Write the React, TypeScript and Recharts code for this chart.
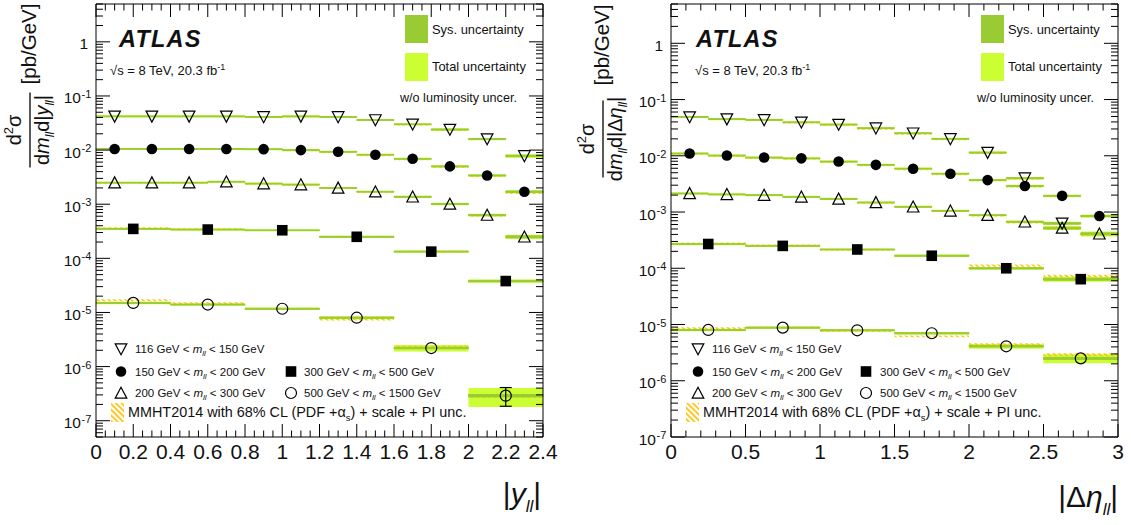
import React from 'react';
import { ComposedChart, XAxis, YAxis, Scatter, ReferenceArea, ErrorBar } from 'recharts';

const FONT = '"Liberation Sans", Arial, Helvetica, sans-serif';
const SYS_COLOR = '#99cc33';
const TOT_COLOR = '#ccff33';
const HATCH_COLOR = '#ffbf00';
const TEXT_COLOR = '#111';

// ---------------- Left panel: |y_ll| ----------------
const yEdgesFine = [0, 0.2, 0.4, 0.6, 0.8, 1.0, 1.2, 1.4, 1.6, 1.8, 2.0, 2.2, 2.4];
const yEdgesCoarse = [0, 0.4, 0.8, 1.2, 1.6, 2.0, 2.4];

const yVal116 = [0.042, 0.042, 0.042, 0.042, 0.041, 0.042, 0.041, 0.036, 0.030, 0.024, 0.016, 0.0078];
const yTot116 = [0.045, 0.045, 0.045, 0.045, 0.045, 0.045, 0.045, 0.045, 0.045, 0.05, 0.05, 0.07];
const ySys116 = [0.015, 0.015, 0.015, 0.015, 0.015, 0.015, 0.015, 0.015, 0.015, 0.02, 0.02, 0.03];
const yTh116 = [0.99, 0.99, 0.99, 0.99, 0.99, 0.98, 0.98, 0.98, 0.97, 0.97, 0.98, 0.98];
const yThU116 = [0.02, 0.02, 0.02, 0.02, 0.02, 0.02, 0.02, 0.02, 0.02, 0.02, 0.02, 0.025];

const yVal150 = [0.0105, 0.0105, 0.0105, 0.0105, 0.0104, 0.0100, 0.0093, 0.0082, 0.0069, 0.0050, 0.0034, 0.0017];
const yTot150 = [0.045, 0.045, 0.045, 0.045, 0.045, 0.045, 0.045, 0.045, 0.045, 0.05, 0.05, 0.065];
const ySys150 = [0.015, 0.015, 0.015, 0.015, 0.015, 0.015, 0.015, 0.015, 0.015, 0.02, 0.02, 0.03];
const yTh150 = [0.98, 0.98, 0.98, 0.98, 0.98, 0.97, 0.97, 0.96, 0.96, 0.96, 0.95, 0.93];
const yThU150 = [0.02, 0.02, 0.02, 0.02, 0.02, 0.02, 0.02, 0.02, 0.02, 0.02, 0.02, 0.025];

const yVal200 = [0.0025, 0.0025, 0.0025, 0.0026, 0.0024, 0.0023, 0.0020, 0.0017, 0.00137, 0.00101, 0.00063, 0.00025];
const yTot200 = [0.045, 0.045, 0.045, 0.045, 0.045, 0.045, 0.045, 0.045, 0.05, 0.05, 0.055, 0.09];
const ySys200 = [0.015, 0.015, 0.015, 0.015, 0.015, 0.015, 0.015, 0.015, 0.02, 0.02, 0.025, 0.04];
const yTh200 = [0.99, 0.99, 0.99, 0.98, 0.98, 0.98, 0.98, 0.98, 0.98, 0.98, 0.97, 0.97];
const yThU200 = [0.02, 0.02, 0.02, 0.02, 0.02, 0.02, 0.02, 0.02, 0.02, 0.02, 0.025, 0.03];

const yVal300 = [0.00035, 0.00034, 0.00033, 0.00025, 0.000133, 0.000038];
const yTot300 = [0.045, 0.045, 0.045, 0.05, 0.05, 0.07];
const ySys300 = [0.015, 0.015, 0.015, 0.02, 0.02, 0.03];
const yTh300 = [1.05, 1.03, 0.99, 0.98, 1.01, 0.99];
const yThU300 = [0.025, 0.025, 0.025, 0.025, 0.025, 0.03];

const yVal500 = [1.5e-5, 1.4e-5, 1.17e-5, 8.0e-6, 2.2e-6, 2.9e-7];
const yTot500 = [0.05, 0.05, 0.05, 0.06, 0.14, 0.38];
const ySys500 = [0.02, 0.02, 0.02, 0.025, 0.03, 0.05];
const yTh500 = [1.12, 1.06, 1.0, 0.92, 1.06, 0.97];
const yThU500 = [0.04, 0.035, 0.03, 0.035, 0.04, 0.06];
const yStat500Last = [{ x: 2.2, y: 2.9e-7, err: [1.05e-7, 1.2e-7] }];

// ---------------- Right panel: |Δη_ll| ----------------
const eEdgesFine = [0, 0.25, 0.5, 0.75, 1.0, 1.25, 1.5, 1.75, 2.0, 2.25, 2.5, 2.75, 3.0];
const eEdgesCoarse = [0, 0.5, 1.0, 1.5, 2.0, 2.5, 3.0];

const eVal116 = [0.049, 0.045, 0.0435, 0.0395, 0.036, 0.031, 0.0252, 0.020, 0.0114, 0.0040, 0.00063];
const eTot116 = [0.045, 0.045, 0.045, 0.045, 0.045, 0.045, 0.045, 0.05, 0.05, 0.05, 0.065];
const eSys116 = [0.015, 0.015, 0.015, 0.015, 0.015, 0.015, 0.015, 0.015, 0.02, 0.02, 0.03];
const eTh116 = [0.98, 0.98, 0.97, 0.97, 0.97, 0.96, 0.96, 0.96, 0.96, 0.97, 0.97];
const eThU116 = [0.02, 0.02, 0.02, 0.02, 0.02, 0.02, 0.02, 0.02, 0.02, 0.025, 0.03];

const eVal150 = [0.011, 0.0101, 0.0093, 0.0090, 0.0079, 0.0069, 0.0059, 0.0048, 0.0037, 0.0029, 0.00194, 0.00085];
const eTot150 = [0.045, 0.045, 0.045, 0.045, 0.045, 0.045, 0.045, 0.045, 0.045, 0.05, 0.05, 0.055];
const eSys150 = [0.015, 0.015, 0.015, 0.015, 0.015, 0.015, 0.015, 0.015, 0.015, 0.02, 0.02, 0.025];
const eTh150 = [0.97, 0.97, 0.97, 0.97, 0.97, 0.96, 0.96, 0.96, 0.97, 0.96, 0.97, 0.98];
const eThU150 = [0.02, 0.02, 0.02, 0.02, 0.02, 0.02, 0.02, 0.02, 0.02, 0.02, 0.025, 0.03];

const eVal200 = [0.00214, 0.00206, 0.0020, 0.00186, 0.00171, 0.00148, 0.00124, 0.00105, 0.00088, 0.00067, 0.00052, 0.00041];
const eTot200 = [0.045, 0.045, 0.045, 0.045, 0.045, 0.045, 0.045, 0.045, 0.045, 0.05, 0.08, 0.10];
const eSys200 = [0.015, 0.015, 0.015, 0.015, 0.015, 0.015, 0.015, 0.015, 0.015, 0.02, 0.035, 0.04];
const eTh200 = [0.98, 0.98, 0.98, 0.98, 0.98, 0.97, 0.97, 0.97, 0.97, 0.96, 0.96, 0.96];
const eThU200 = [0.02, 0.02, 0.02, 0.02, 0.02, 0.02, 0.02, 0.02, 0.02, 0.025, 0.03, 0.035];

const eVal300 = [0.00027, 0.00025, 0.000216, 0.000167, 0.000100, 0.000064];
const eTot300 = [0.045, 0.045, 0.045, 0.05, 0.055, 0.10];
const eSys300 = [0.015, 0.015, 0.015, 0.02, 0.025, 0.04];
const eTh300 = [1.04, 1.03, 0.98, 1.0, 1.12, 1.14];
const eThU300 = [0.025, 0.025, 0.025, 0.025, 0.045, 0.05];

const eVal500 = [8.0e-6, 8.8e-6, 7.9e-6, 7.0e-6, 4.1e-6, 2.5e-6];
const eTot500 = [0.05, 0.05, 0.05, 0.055, 0.10, 0.18];
const eSys500 = [0.02, 0.02, 0.02, 0.025, 0.03, 0.04];
const eTh500 = [1.08, 1.0, 0.98, 0.88, 1.08, 1.16];
const eThU500 = [0.04, 0.035, 0.035, 0.04, 0.05, 0.06];

// ---------------- Axis ticks & labels ----------------
const yDecades = [-8, -7, -6, -5, -4, -3, -2, -1, 0];
const yMinorMult = [1, 2, 3, 4, 5, 6, 7, 8, 9];
const leftYDomain: [number, number] = [5e-8, 5];
const rightYDomain: [number, number] = [1e-7, 5];

const xMajorLeft = [0, 0.2, 0.4, 0.6, 0.8, 1.0, 1.2, 1.4, 1.6, 1.8, 2.0, 2.2, 2.4];
const xLabelsLeft = ['0', '0.2', '0.4', '0.6', '0.8', '1', '1.2', '1.4', '1.6', '1.8', '2', '2.2', '2.4'];
const xMinorStepLeft = 0.05;
const xMajorRight = [0, 0.5, 1.0, 1.5, 2.0, 2.5, 3.0];
const xLabelsRight = ['0', '0.5', '1', '1.5', '2', '2.5', '3'];
const xMinorStepRight = 0.1;

type Kind = 'down' | 'dot' | 'up' | 'square' | 'circle';

interface SeriesDef {
  key: string;
  edges: number[];
  values: number[];
  tot: number[];
  sys: number[];
  th: number[];
  thU: number[];
  kind: Kind;
}

const leftSeries: SeriesDef[] = [
  { key: 'l116', edges: yEdgesFine, values: yVal116, tot: yTot116, sys: ySys116, th: yTh116, thU: yThU116, kind: 'down' },
  { key: 'l150', edges: yEdgesFine, values: yVal150, tot: yTot150, sys: ySys150, th: yTh150, thU: yThU150, kind: 'dot' },
  { key: 'l200', edges: yEdgesFine, values: yVal200, tot: yTot200, sys: ySys200, th: yTh200, thU: yThU200, kind: 'up' },
  { key: 'l300', edges: yEdgesCoarse, values: yVal300, tot: yTot300, sys: ySys300, th: yTh300, thU: yThU300, kind: 'square' },
  { key: 'l500', edges: yEdgesCoarse, values: yVal500, tot: yTot500, sys: ySys500, th: yTh500, thU: yThU500, kind: 'circle' },
];

const rightSeries: SeriesDef[] = [
  { key: 'r116', edges: eEdgesFine, values: eVal116, tot: eTot116, sys: eSys116, th: eTh116, thU: eThU116, kind: 'down' },
  { key: 'r150', edges: eEdgesFine, values: eVal150, tot: eTot150, sys: eSys150, th: eTh150, thU: eThU150, kind: 'dot' },
  { key: 'r200', edges: eEdgesFine, values: eVal200, tot: eTot200, sys: eSys200, th: eTh200, thU: eThU200, kind: 'up' },
  { key: 'r300', edges: eEdgesCoarse, values: eVal300, tot: eTot300, sys: eSys300, th: eTh300, thU: eThU300, kind: 'square' },
  { key: 'r500', edges: eEdgesCoarse, values: eVal500, tot: eTot500, sys: eSys500, th: eTh500, thU: eThU500, kind: 'circle' },
];

function logTicks(domain: [number, number]): number[] {
  const out: number[] = [];
  for (const d of yDecades) {
    for (const m of yMinorMult) {
      const v = m * Math.pow(10, d);
      if (v >= domain[0] * 0.999 && v <= domain[1] * 1.001) out.push(v);
    }
  }
  return out;
}

function linTicks(majors: number[], step: number): number[] {
  const max = majors[majors.length - 1];
  const n = Math.round(max / step);
  const out: number[] = [];
  for (let i = 0; i <= n; i++) out.push(Number((i * step).toFixed(4)));
  return out;
}

function drawMarker(kind: Kind, cx: number, cy: number) {
  const sw = 1.2;
  switch (kind) {
    case 'down':
      return <polygon points={`${cx - 5.8},${cy - 5.2} ${cx + 5.8},${cy - 5.2} ${cx},${cy + 5.8}`} fill="none" stroke="#000" strokeWidth={sw} />;
    case 'up':
      return <polygon points={`${cx - 5.8},${cy + 5.2} ${cx + 5.8},${cy + 5.2} ${cx},${cy - 5.8}`} fill="none" stroke="#000" strokeWidth={sw} />;
    case 'dot':
      return <circle cx={cx} cy={cy} r={5.3} fill="#000" />;
    case 'square':
      return <rect x={cx - 5.3} y={cy - 5.3} width={10.6} height={10.6} fill="#000" />;
    case 'circle':
    default:
      return <circle cx={cx} cy={cy} r={5.5} fill="none" stroke="#000" strokeWidth={sw} />;
  }
}

function renderYTick(props: any, side: 'left' | 'right') {
  const { x, y, payload } = props;
  const v = payload.value as number;
  const e = Math.log10(v);
  const major = Math.abs(e - Math.round(e)) < 1e-6;
  const len = major ? 14 : 7;
  const dir = side === 'left' ? 1 : -1;
  let label: React.ReactNode = null;
  if (side === 'left' && major) {
    const exp = Math.round(e);
    if (exp === 0) {
      label = (
        <text x={x - 8} y={y + 7.5} textAnchor="end" fontSize={15.5} fontFamily={FONT} fill={TEXT_COLOR}>1</text>
      );
    } else {
      label = (
        <g>
          <text x={x - 15} y={y + 7.5} textAnchor="end" fontSize={15.5} fontFamily={FONT} fill={TEXT_COLOR}>10</text>
          <text x={x - 14.5} y={y + 2} textAnchor="start" fontSize={11} fontFamily={FONT} fill={TEXT_COLOR}>{String(exp)}</text>
        </g>
      );
    }
  }
  return (
    <g>
      <line x1={x} y1={y} x2={x + dir * len} y2={y} stroke="#000" strokeWidth={1} />
      {label}
    </g>
  );
}

function renderXTick(props: any, side: 'bottom' | 'top', majors: number[], labels: string[]) {
  const { x, y, payload } = props;
  const v = payload.value as number;
  const idx = majors.findIndex((m) => Math.abs(m - v) < 1e-6);
  const major = idx >= 0;
  const len = major ? 13 : 6.5;
  const dir = side === 'bottom' ? -1 : 1;
  return (
    <g>
      <line x1={x} y1={y} x2={x} y2={y + dir * len} stroke="#000" strokeWidth={1} />
      {side === 'bottom' && major ? (
        <text x={x} y={y + 22} textAnchor="middle" fontSize={21} fontFamily={FONT} fill={TEXT_COLOR}>{labels[idx]}</text>
      ) : null}
    </g>
  );
}

interface PanelProps {
  series: SeriesDef[];
  xDomain: [number, number];
  yDomain: [number, number];
  xMajors: number[];
  xLabels: string[];
  xStep: number;
  width: number;
  margin: { top: number; right: number; bottom: number; left: number };
  stat?: { x: number; y: number; err: number[] }[];
}

function Panel({ series, xDomain, yDomain, xMajors, xLabels, xStep, width, margin, stat }: PanelProps) {
  const xTicks = linTicks(xMajors, xStep);
  const yTicks = logTicks(yDomain);
  const totAreas: React.ReactNode[] = [];
  const thAreas: React.ReactNode[] = [];
  const sysAreas: React.ReactNode[] = [];
  series.forEach((s) => {
    s.values.forEach((v, i) => {
      const x1 = s.edges[i];
      const x2 = s.edges[i + 1];
      totAreas.push(
        <ReferenceArea key={`${s.key}-tot-${i}`} x1={x1} x2={x2} y1={v * (1 - s.tot[i])} y2={v * (1 + s.tot[i])}
          fill={TOT_COLOR} fillOpacity={1} stroke="none" ifOverflow="visible" />
      );
      const t = v * s.th[i];
      thAreas.push(
        <ReferenceArea key={`${s.key}-th-${i}`} x1={x1} x2={x2} y1={t * (1 - s.thU[i])} y2={t * (1 + s.thU[i])}
          fill="url(#mmhtHatch)" fillOpacity={1} stroke="none" ifOverflow="visible" />
      );
      sysAreas.push(
        <ReferenceArea key={`${s.key}-sys-${i}`} x1={x1} x2={x2} y1={v * (1 - s.sys[i])} y2={v * (1 + s.sys[i])}
          fill={SYS_COLOR} fillOpacity={1} stroke={SYS_COLOR} strokeWidth={1} ifOverflow="visible" />
      );
    });
  });

  // an invisible item attached to the mirrored (top / right) frame axes so they get drawn
  const frameAnchor = [{ x: xDomain[0], y: yDomain[1] }];

  return (
    <ComposedChart width={width} height={525} margin={margin}>
      <XAxis xAxisId={0} dataKey="x" type="number" domain={xDomain} allowDataOverflow ticks={xTicks} interval={0}
        tickLine={false} tickSize={0} tickMargin={0} height={40} axisLine={{ stroke: '#000', strokeWidth: 1 }}
        tick={(p: any) => renderXTick(p, 'bottom', xMajors, xLabels)} />
      <XAxis xAxisId="top" dataKey="x" orientation="top" type="number" domain={xDomain} allowDataOverflow ticks={xTicks} interval={0}
        tickLine={false} tickSize={0} tickMargin={0} height={1} axisLine={{ stroke: '#000', strokeWidth: 1 }}
        tick={(p: any) => renderXTick(p, 'top', xMajors, xLabels)} />
      <YAxis yAxisId={0} type="number" scale="log" domain={yDomain} allowDataOverflow ticks={yTicks} interval={0}
        tickLine={false} tickSize={0} tickMargin={0} width={86} axisLine={{ stroke: '#000', strokeWidth: 1 }}
        tick={(p: any) => renderYTick(p, 'left')} />
      <YAxis yAxisId="right" orientation="right" type="number" scale="log" domain={yDomain} allowDataOverflow ticks={yTicks} interval={0}
        tickLine={false} tickSize={0} tickMargin={0} width={1} axisLine={{ stroke: '#000', strokeWidth: 1 }}
        tick={(p: any) => renderYTick(p, 'right')} />
      {totAreas}
      {thAreas}
      {sysAreas}
      <Scatter xAxisId="top" yAxisId="right" data={frameAnchor} dataKey="y" isAnimationActive={false} shape={() => <g />} />
      {stat ? (
        <Scatter data={stat} dataKey="y" isAnimationActive={false} shape={() => <g />}>
          <ErrorBar dataKey="err" direction="y" width={6} stroke="#000" strokeWidth={1.2} />
        </Scatter>
      ) : null}
      {series.map((s) => (
        <Scatter key={s.key} data={s.values.map((v, i) => ({ x: (s.edges[i] + s.edges[i + 1]) / 2, y: v }))}
          dataKey="y" isAnimationActive={false}
          shape={(p: any) => drawMarker(s.kind, p.cx, p.cy)} />
      ))}
    </ComposedChart>
  );
}

function MassLabel({ x, y, lo, hi }: { x: number; y: number; lo: string; hi: string }) {
  return (
    <text x={x} y={y} fontSize={11.5} fontFamily={FONT} fill={TEXT_COLOR}>
      {`${lo} GeV < `}
      <tspan fontStyle="italic">m</tspan>
      <tspan fontStyle="italic" fontSize={8} dy={3}>ll</tspan>
      <tspan dy={-3}>{` < ${hi} GeV`}</tspan>
    </text>
  );
}

interface OverlayProps {
  titleX: number;
  titleY: number;
  halfFrac: number;
  unitPos: number;
  isEta: boolean;
  atlasX: number;
  sqrtX: number;
  legX: number;
  woX: number;
  mkX1: number;
  txX1: number;
  mkX2: number;
  txX2: number;
  hatchX: number;
  hatchTxX: number;
  axTitleX: number;
  axTitleY: number;
}

function Overlay(o: OverlayProps) {
  const rows = [349, 371.5, 393];
  return (
    <g fontFamily={FONT} fill={TEXT_COLOR}>
      {/* y-axis title */}
      <g transform={`translate(${o.titleX},${o.titleY}) rotate(-90)`}>
        <text x={0} y={-9} textAnchor="middle" fontSize={20}>
          d<tspan fontSize={13} dy={-8}>2</tspan><tspan dy={8}>σ</tspan>
        </text>
        <line x1={-o.halfFrac} y1={0} x2={o.halfFrac} y2={0} stroke="#000" strokeWidth={1.3} />
        <text x={0} y={19} textAnchor="middle" fontSize={20}>
          d<tspan fontStyle="italic">m</tspan>
          <tspan fontSize={12} fontStyle="italic" dy={5}>ll</tspan>
          <tspan dy={-5}>{o.isEta ? 'd|Δ' : 'd|'}</tspan>
          <tspan fontStyle="italic">{o.isEta ? 'η' : 'y'}</tspan>
          <tspan fontSize={12} fontStyle="italic" dy={5}>ll</tspan>
          <tspan dy={-5}>|</tspan>
        </text>
        <text x={o.unitPos} y={6} textAnchor="middle" fontSize={20.5}>[pb/GeV]</text>
      </g>

      {/* ATLAS label */}
      <text x={o.atlasX} y={47} fontSize={23.5} fontWeight="bold" fontStyle="italic" letterSpacing={1.2}>ATLAS</text>
      <text x={o.sqrtX} y={75} fontSize={13}>
        √s = 8 TeV, 20.3 fb<tspan fontSize={9} dy={-5}>-1</tspan>
      </text>

      {/* uncertainty legend */}
      <rect x={o.legX} y={15} width={23} height={28} fill={SYS_COLOR} />
      <text x={o.legX + 27} y={33.5} fontSize={12.9}>Sys. uncertainty</text>
      <rect x={o.legX} y={53} width={23} height={28} fill={TOT_COLOR} />
      <text x={o.legX + 27} y={71} fontSize={12.9}>Total uncertainty</text>
      <text x={o.woX} y={102} fontSize={12.6}>w/o luminosity uncer.</text>

      {/* mass-bin legend */}
      {drawMarker('down', o.mkX1, rows[0])}
      <MassLabel x={o.txX1} y={rows[0] + 4} lo="116" hi="150" />
      {drawMarker('dot', o.mkX1, rows[1])}
      <MassLabel x={o.txX1} y={rows[1] + 4} lo="150" hi="200" />
      {drawMarker('up', o.mkX1, rows[2])}
      <MassLabel x={o.txX1} y={rows[2] + 4} lo="200" hi="300" />
      {drawMarker('square', o.mkX2, rows[1])}
      <MassLabel x={o.txX2} y={rows[1] + 4} lo="300" hi="500" />
      {drawMarker('circle', o.mkX2, rows[2])}
      <MassLabel x={o.txX2} y={rows[2] + 4} lo="500" hi="1500" />

      <rect x={o.hatchX} y={403} width={13} height={19} fill="url(#mmhtHatch)" />
      <text x={o.hatchTxX} y={417} fontSize={14.4}>
        MMHT2014 with 68% CL (PDF +α<tspan fontSize={9.5} dy={4}>s</tspan><tspan dy={-4}>) + scale + PI unc.</tspan>
      </text>

      {/* x-axis title */}
      <text x={o.axTitleX} y={o.axTitleY} textAnchor="end" fontSize={30}>
        {o.isEta ? '|Δ' : '|'}
        <tspan fontStyle="italic">{o.isEta ? 'η' : 'y'}</tspan>
        <tspan fontSize={17} fontStyle="italic" dy={8}>ll</tspan>
        <tspan dy={-8}>|</tspan>
      </text>
    </g>
  );
}

export default function App() {
  return (
    <div style={{ position: 'absolute', left: 0, top: 0, width: 1131, height: 525, background: '#fff', overflow: 'hidden' }}>
      <svg width={0} height={0} style={{ position: 'absolute' }}>
        <defs>
          <pattern id="mmhtHatch" patternUnits="userSpaceOnUse" width={4} height={4} patternTransform="rotate(-45)">
            <rect x={0} y={0} width={1.7} height={4} fill={HATCH_COLOR} />
          </pattern>
        </defs>
      </svg>
      <div style={{ position: 'absolute', left: 0, top: 0 }}>
        <Panel series={leftSeries} xDomain={[0, 2.4]} yDomain={leftYDomain} xMajors={xMajorLeft} xLabels={xLabelsLeft}
          xStep={xMinorStepLeft} width={560} margin={{ top: 3, right: 16, bottom: 48, left: 10 }} stat={yStat500Last} />
      </div>
      <div style={{ position: 'absolute', left: 580, top: 0 }}>
        <Panel series={rightSeries} xDomain={[0, 3]} yDomain={rightYDomain} xMajors={xMajorRight} xLabels={xLabelsRight}
          xStep={xMinorStepRight} width={551} margin={{ top: 3, right: 12, bottom: 48, left: 5 }} />
      </div>
      <svg width={1131} height={525} style={{ position: 'absolute', left: 0, top: 0, pointerEvents: 'none' }}>
        <Overlay titleX={30} titleY={130} halfFrac={37.5} unitPos={86} isEta={false} atlasX={119} sqrtX={110}
          legX={405} woX={400} mkX1={121} txX1={135} mkX2={291} txX2={304} hatchX={111} hatchTxX={128}
          axTitleX={541} axTitleY={504} />
        <Overlay titleX={603} titleY={139} halfFrac={38.5} unitPos={94} isEta={true} atlasX={696} sqrtX={695}
          legX={981} woX={977} mkX1={698} txX1={712} mkX2={866} txX2={880} hatchX={686} hatchTxX={703}
          axTitleX={1118} axTitleY={507} />
      </svg>
    </div>
  );
}
